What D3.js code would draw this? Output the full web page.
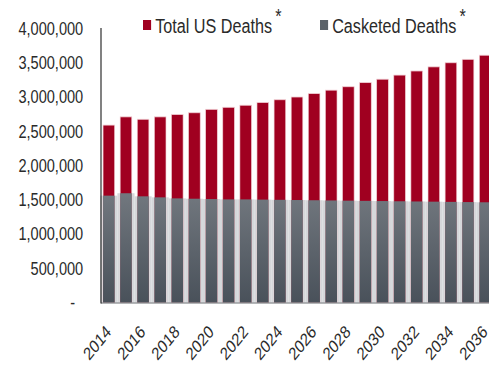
<!DOCTYPE html>
<html>
<head>
<meta charset="utf-8">
<script src="https://cdn.jsdelivr.net/npm/d3@7"></script>
<style>
  body { margin: 0; background: #fff; }
  text { font-family: "Liberation Sans", Arial, sans-serif; fill: #2a2a2a; }
</style>
</head>
<body>
<script>
// data
const years = d3.range(2014, 2037);
const totalDeaths = [2590000, 2710000, 2675000, 2710000, 2745000, 2770000, 2820000, 2850000,
  2880000, 2920000, 2960000, 3000000, 3050000, 3100000, 3150000, 3210000, 3260000, 3320000,
  3380000, 3440000, 3500000, 3550000, 3610000];
const casketedDeaths = [1560000, 1595000, 1550000, 1535000, 1520000, 1515000, 1510000, 1505000,
  1505000, 1502000, 1499000, 1496000, 1493000, 1490000, 1487000, 1484000, 1481000, 1478000,
  1475000, 1472000, 1469000, 1466000, 1463000];
const yTicks = [0, 500000, 1000000, 1500000, 2000000, 2500000, 3000000, 3500000, 4000000];
const xTicks = years.filter(y => y % 2 === 0);

const width = 489;
const height = 367;
const sx = 0.81; // the picture is squeezed horizontally

const svg = d3.select("body").append("svg")
    .attr("width", width)
    .attr("height", height);

const defs = svg.append("defs");
const grad = defs.append("linearGradient")
    .attr("id", "grayGrad")
    .attr("gradientUnits", "userSpaceOnUse")
    .attr("x1", 0).attr("x2", 0)
    .attr("y1", 195).attr("y2", 303);
grad.append("stop").attr("offset", "0%").attr("stop-color", "#71777e");
grad.append("stop").attr("offset", "100%").attr("stop-color", "#49515a");

const g = svg.append("g")
    .attr("transform", `scale(${sx},1)`);

// scales
const x = d3.scaleBand()
    .domain(years)
    .range([101 / sx, 493 / sx])
    .paddingInner(0.32)
    .paddingOuter(0.12);

const y = d3.scaleLinear()
    .domain([0, 4000000])
    .range([302.5, 28.5]);

const gap = x.step() - x.bandwidth();

// light gray strip behind the casketed bars
g.selectAll(".bgStrip")
    .data(years)
    .enter().append("rect")
    .attr("class", "bgStrip")
    .attr("x", (d) => x(d) - gap / 2)
    .attr("width", x.step())
    .attr("y", (d, i) => y(casketedDeaths[i]))
    .attr("height", (d, i) => y(0) - y(casketedDeaths[i]))
    .attr("fill", "#d5d7da");

// total deaths bars (red)
g.selectAll(".total")
    .data(years)
    .enter().append("rect")
    .attr("class", "total")
    .attr("x", d => x(d))
    .attr("width", x.bandwidth())
    .attr("y", (d, i) => y(totalDeaths[i]))
    .attr("height", (d, i) => y(0) - y(totalDeaths[i]))
    .attr("fill", "#a00020")
    .attr("stroke", "#f2d0d5")
    .attr("stroke-width", 0.8);

// casketed deaths bars (gray) drawn over
g.selectAll(".casket")
    .data(years)
    .enter().append("rect")
    .attr("class", "casket")
    .attr("x", d => x(d))
    .attr("width", x.bandwidth())
    .attr("y", (d, i) => y(casketedDeaths[i]))
    .attr("height", (d, i) => y(0) - y(casketedDeaths[i]))
    .attr("fill", "url(#grayGrad)");

// bottom line
g.append("line")
    .attr("x1", 101 / sx).attr("x2", 493 / sx)
    .attr("y1", y(0) + 0.5).attr("y2", y(0) + 0.5)
    .attr("stroke", "#6a6e73")
    .attr("stroke-width", 1.2);

// y axis
const yAxis = g.append("g")
    .attr("transform", `translate(${101 / sx},0)`)
    .call(d3.axisLeft(y)
        .tickValues(yTicks)
        .tickSize(0)
        .tickPadding(22)
        .tickFormat(d => d === 0 ? "-" : d3.format(",")(d)));
yAxis.select(".domain")
    .attr("d", `M0,${y(4000000) - 0.5}V${y(0) + 1}`)
    .attr("stroke", "#111")
    .attr("stroke-width", 1.3);
yAxis.selectAll("text")
    .style("font-size", "18px")
    .style("fill", "#2a2a2a");
yAxis.selectAll(".tick")
    .filter(d => d === 0)
    .select("text")
    .attr("dx", "-10px");

// x axis labels (even years only, rotated)
g.selectAll(".xlab")
    .data(xTicks)
    .enter().append("text")
    .attr("class", "xlab")
    .attr("transform", d => `translate(${x(d) + x.bandwidth() / 2 + 4},333) rotate(-45)`)
    .attr("text-anchor", "end")
    .style("font-size", "18px")
    .text(d => d);

// legend
const legendItems = [
  { label: "Total US Deaths", color: "#a00020", x: 143 },
  { label: "Casketed Deaths", color: "#5b6269", x: 320 }
];
const legend = g.selectAll(".legend")
    .data(legendItems)
    .enter().append("g")
    .attr("class", "legend")
    .attr("transform", d => `translate(${d.x / sx},0)`);
legend.append("rect")
    .attr("x", 0)
    .attr("y", 20)
    .attr("width", 10)
    .attr("height", 10)
    .attr("fill", d => d.color);
const lt = legend.append("text")
    .attr("x", 15)
    .attr("y", 33)
    .style("font-size", "20px");
lt.append("tspan").text(d => d.label);
lt.append("tspan")
    .attr("dx", 4)
    .attr("dy", -10)
    .style("font-size", "20px")
    .text("*");
</script>
</body>
</html>
